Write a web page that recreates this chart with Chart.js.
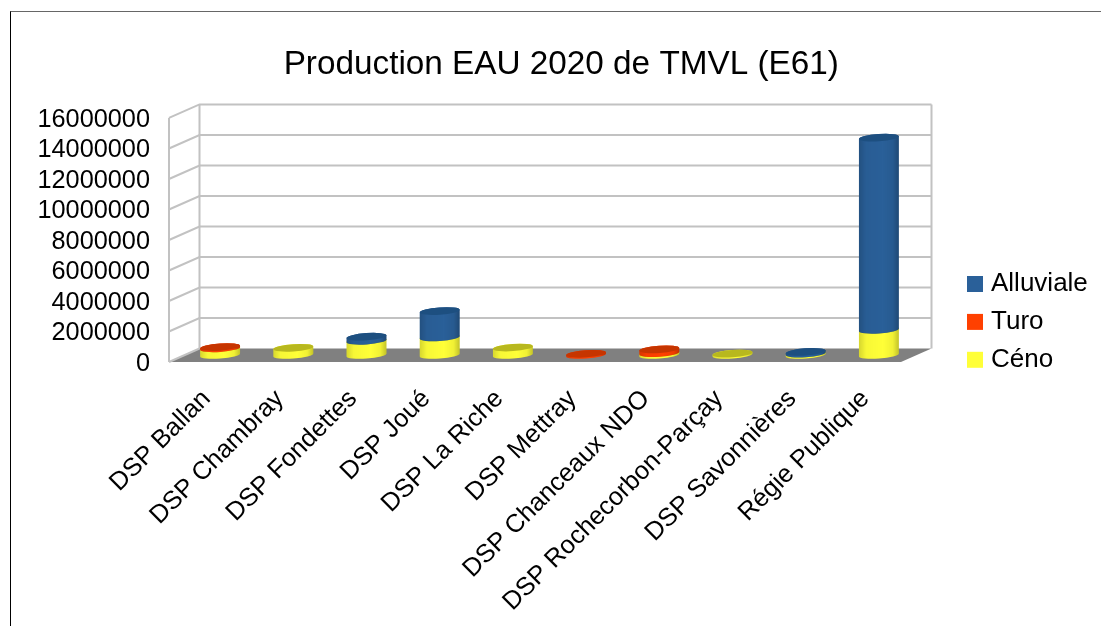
<!DOCTYPE html>
<html>
<head>
<meta charset="utf-8">
<title>Production EAU 2020 de TMVL (E61)</title>
<script src="https://cdn.jsdelivr.net/npm/chart.js@4/dist/chart.umd.min.js"></script>
<style>
  html, body { margin: 0; padding: 0; background: #fff; overflow: hidden; }
  #frame {
    position: absolute; left: 10px; top: 11px; width: 1091px; height: 615px;
    border-left: 1px solid #000; border-top: 1px solid #666; box-sizing: border-box;
  }
  #chart { position: absolute; left: 0; top: 0; }
</style>
</head>
<body>
<div id="frame"></div>
<canvas id="chart" width="1101" height="626"></canvas>
<script>
const categories = ['DSP Ballan', 'DSP Chambray', 'DSP Fondettes', 'DSP Joué', 'DSP La Riche',
    'DSP Mettray', 'DSP Chanceaux NDO', 'DSP Rochecorbon-Parçay', 'DSP Savonnières', 'Régie Publique'];
const ceno      = [440000, 470000, 930000, 1150000, 490000, 0,      120000, 90000, 90000, 1650000];
const turo      = [ 80000,      0,      0,       0,      0, 80000,  250000,     0,     0,       0];
const alluviale = [     0,      0, 270000, 1730000,      0,     0,       0,     0, 110000, 12600000];

const FONT = 'Liberation Sans';

// depth of the fake 3D box, measured from the plane the scales live on
const FRONT = {dx: -14.5, dy: 7};
const BACK = {dx: 16, dy: -6.5};
const RX = 20, RY = 3.6, TILT = -4 * Math.PI / 180;

function cylinder(ctx, x, yTop, yBase, color, topColor) {
    ctx.beginPath();
    ctx.ellipse(x, yBase, RX, RY, TILT, 0, Math.PI);
    ctx.ellipse(x, yTop, RX, RY, TILT, Math.PI, 2 * Math.PI);
    ctx.closePath();
    ctx.fillStyle = color;
    ctx.fill();
    const shade = ctx.createLinearGradient(x - RX, 0, x + RX, 0);
    shade.addColorStop(0, 'rgba(0,0,0,0.16)');
    shade.addColorStop(0.18, 'rgba(0,0,0,0.03)');
    shade.addColorStop(0.6, 'rgba(0,0,0,0)');
    shade.addColorStop(0.85, 'rgba(0,0,0,0.06)');
    shade.addColorStop(1, 'rgba(0,0,0,0.24)');
    ctx.fillStyle = shade;
    ctx.fill();

    ctx.beginPath();
    ctx.ellipse(x, yTop, RX, RY, TILT, 0, 2 * Math.PI);
    ctx.fillStyle = topColor;
    ctx.fill();
}

const box3d = {
    id: 'box3d',
    afterLayout(chart) {
        // the legend sits away from the plot, further left than the layout would put it
        const legend = chart.legend;
        legend.left = 960.1;
        legend.right = 1101;
        legend.top = 259.1;
        legend.bottom = 400;
        // the title is centred on the whole picture less the frame, not on the padded area
        chart.titleBlock.left += 43;
        chart.titleBlock.right += 43;
    },
    beforeDatasetsDraw(chart) {
        const ctx = chart.ctx;
        const {x, y} = chart.scales;
        const l = x.left, r = x.right;
        const y0 = y.getPixelForValue(0);

        ctx.save();
        // floor
        ctx.fillStyle = '#808080';
        ctx.beginPath();
        ctx.moveTo(l + FRONT.dx, y0 + FRONT.dy);
        ctx.lineTo(r + FRONT.dx, y0 + FRONT.dy);
        ctx.lineTo(r + BACK.dx, y0 + BACK.dy);
        ctx.lineTo(l + BACK.dx, y0 + BACK.dy);
        ctx.closePath();
        ctx.fill();

        // grid lines running along the left wall and the back wall
        ctx.strokeStyle = '#c2c2c2';
        ctx.lineWidth = 2;
        for (const tick of y.ticks) {
            const py = y.getPixelForValue(tick.value);
            ctx.beginPath();
            ctx.moveTo(l + FRONT.dx, py + FRONT.dy);
            ctx.lineTo(l + BACK.dx, py + BACK.dy);
            if (tick.value !== 0) ctx.lineTo(r + BACK.dx, py + BACK.dy);
            ctx.stroke();
        }
        const yTop = y.getPixelForValue(y.max);
        ctx.beginPath();
        ctx.moveTo(l + FRONT.dx, yTop + FRONT.dy);
        ctx.lineTo(l + FRONT.dx, y0 + FRONT.dy);
        ctx.moveTo(l + BACK.dx, yTop + BACK.dy);
        ctx.lineTo(l + BACK.dx, y0 + BACK.dy);
        ctx.moveTo(r + BACK.dx, yTop + BACK.dy);
        ctx.lineTo(r + BACK.dx, y0 + BACK.dy);
        ctx.stroke();

        // bars become cylinders, bottom of the stack first
        ctx.filter = 'blur(0.6px)';
        chart.data.datasets.forEach((ds, i) => {
            chart.getDatasetMeta(i).data.forEach((bar, j) => {
                if (!ds.data[j]) return;
                cylinder(ctx, bar.x, bar.y, bar.base, ds.backgroundColor, ds.topColor);
            });
        });
        ctx.restore();
        return false;
    }
};

new Chart(document.getElementById('chart'), {
    type: 'bar',
    data: {
        labels: categories,
        datasets: [
            {label: 'Céno', data: ceno, backgroundColor: '#ffff38', topColor: '#b8b81e'},
            {label: 'Turo', data: turo, backgroundColor: '#ff4000', topColor: '#c63500'},
            {label: 'Alluviale', data: alluviale, backgroundColor: '#2a6099', topColor: '#1d4f80'}
        ]
    },
    options: {
        responsive: false,
        animation: false,
        datasets: {bar: {barThickness: 40}},
        layout: {padding: {left: 21, right: 85.5, top: 0, bottom: 0}},
        scales: {
            x: {
                stacked: true,
                grid: {display: false},
                border: {display: false},
                afterFit: (scale) => { scale.height = 271; },
                ticks: {
                    color: '#000',
                    font: {family: FONT, size: 25.5},
                    autoSkip: false,
                    minRotation: 45,
                    maxRotation: 45,
                    labelOffset: -13.5,
                    padding: 21
                }
            },
            y: {
                stacked: true,
                min: 0,
                max: 16000000,
                grid: {display: false, drawTicks: false},
                border: {display: false},
                afterFit: (scale) => { scale.width = 162.5; },
                ticks: {
                    color: '#000',
                    font: {family: FONT, size: 25.3},
                    stepSize: 2000000,
                    autoSkip: false,
                    labelOffset: 9,
                    padding: 33.5,
                    callback: (value) => String(value)
                }
            }
        },
        plugins: {
            title: {
                display: true,
                text: 'Production EAU 2020 de TMVL (E61)',
                color: '#000',
                font: {family: FONT, size: 33.3, weight: 'normal', lineHeight: 1.2},
                padding: {top: 45, bottom: 26}
            },
            legend: {
                position: 'right',
                align: 'start',
                reverse: true,
                maxWidth: 100,
                labels: {
                    color: '#000',
                    font: {family: FONT, size: 26},
                    padding: 11.9,
                    boxWidth: 6,
                    boxHeight: 6,
                    // thick same-colour stroke gives a 16px swatch with the short gap to its text
                    generateLabels: (chart) => chart.data.datasets.map((ds, i) => ({
                        text: ds.label,
                        fillStyle: ds.backgroundColor,
                        strokeStyle: ds.backgroundColor,
                        lineWidth: 10,
                        datasetIndex: i
                    }))
                }
            },
            tooltip: {enabled: false}
        }
    },
    plugins: [box3d]
});
</script>
</body>
</html>
